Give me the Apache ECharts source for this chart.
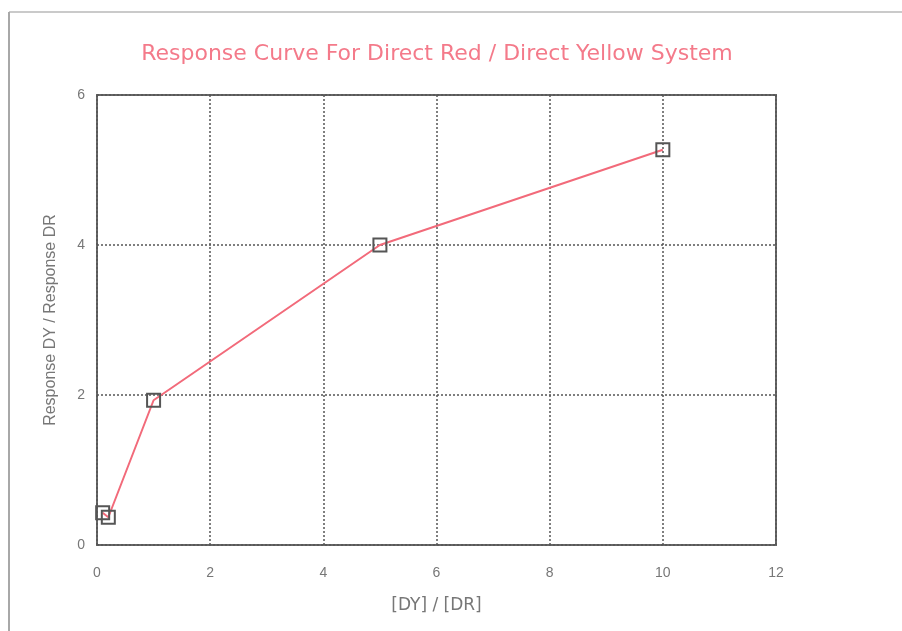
<!DOCTYPE html>
<html>
<head>
<meta charset="utf-8">
<script src="https://cdn.jsdelivr.net/npm/echarts@6/dist/echarts.min.js"></script>
<style>
html,body{margin:0;padding:0;background:#fff;}
#chart{width:902px;height:631px;}
</style>
</head>
<body>
<div id="chart"></div>
<script>
// Concentration ratio [DY]/[DR] against response ratio DY/DR
const concRatio = [0.1, 0.2, 1, 5, 10];
const responseRatio = [0.43, 0.37, 1.93, 4.0, 5.27];

const xTicks = [0, 2, 4, 6, 8, 10, 12];
const yTicks = [0, 2, 4, 6];

const chart = echarts.init(document.getElementById('chart'));
const sans = '"Liberation Sans", Arial, Helvetica, sans-serif';
const wide = '"DejaVu Sans", "Liberation Sans", sans-serif';

chart.setOption({
  backgroundColor: '#ffffff',
  animation: false,
  title: {
    text: 'Response Curve For Direct Red / Direct Yellow System',
    left: 432,
    textAlign: 'center',
    top: 38,
    textStyle: {
      color: '#f47a8a',
      fontSize: 22,
      fontWeight: 'normal',
      fontFamily: wide
    }
  },
  graphic: [
    // thin outer page frame (top and left edges)
    { type: 'line', shape: { x1: 9, y1: 12, x2: 902, y2: 12 }, style: { stroke: '#b8b8b8', lineWidth: 1.5 } },
    { type: 'line', shape: { x1: 9, y1: 12, x2: 9, y2: 631 }, style: { stroke: '#a8a8a8', lineWidth: 2 } }
  ],
  grid: {
    left: 97,
    right: 126,
    top: 95,
    bottom: 86,
    show: true,
    borderColor: '#666666',
    borderWidth: 2,
    backgroundColor: 'transparent'
  },
  xAxis: {
    type: 'value',
    min: xTicks[0],
    max: xTicks[xTicks.length - 1],
    interval: xTicks[1] - xTicks[0],
    name: '[DY] / [DR]',
    nameLocation: 'middle',
    nameGap: 52,
    nameTextStyle: { color: '#777777', fontSize: 17, fontFamily: wide },
    axisLine: { show: false },
    axisTick: { show: false },
    axisLabel: { color: '#777777', fontSize: 14, margin: 21, fontFamily: sans },
    splitLine: { show: true, lineStyle: { color: '#555555', type: [2, 2], width: 1.5 } }
  },
  yAxis: {
    type: 'value',
    min: yTicks[0],
    max: yTicks[yTicks.length - 1],
    interval: yTicks[1] - yTicks[0],
    name: 'Response DY / Response DR',
    nameLocation: 'middle',
    nameGap: 38,
    nameTextStyle: { color: '#777777', fontSize: 16, fontFamily: sans },
    axisLine: { show: false },
    axisTick: { show: false },
    axisLabel: { color: '#777777', fontSize: 14, margin: 12, fontFamily: sans },
    splitLine: { show: true, lineStyle: { color: '#555555', type: [2, 2], width: 1.5 } }
  },
  series: [{
    type: 'line',
    data: concRatio.map((x, i) => [x, responseRatio[i]]),
    lineStyle: { color: '#f26a7a', width: 2 },
    symbol: 'rect',
    symbolSize: 13,
    itemStyle: { color: 'rgba(0,0,0,0)', borderColor: '#555555', borderWidth: 2 },
    z: 3
  }]
});
</script>
</body>
</html>
